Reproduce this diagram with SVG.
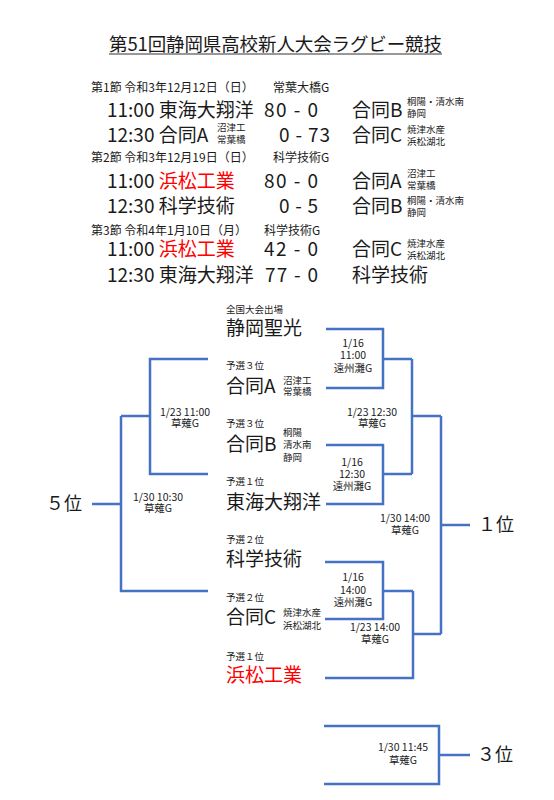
<svg xmlns="http://www.w3.org/2000/svg" width="554" height="800" viewBox="0 0 554 800">
<style>
text{font-family:"Noto Sans CJK JP","Noto Sans",sans-serif;fill:#1a1a1a}
.title{font-size:18.5px}
.hdr{font-size:12px}
.row{font-size:19px}
.sm{font-size:9.5px}
.red{fill:#ff0000}
.team{font-size:19px}
.lbl{font-size:9.5px}
.ml{font-size:10.5px;text-anchor:middle}
.rank{font-size:18px}
.conn path{fill:none;stroke:#4472C4;stroke-width:2.5}
</style>
<rect width="554" height="800" fill="#fff"/>
<g id="title">
<text class="title" x="109" y="51" textLength="333" lengthAdjust="spacing">第51回静岡県高校新人大会ラグビー競技</text>
<line x1="109" y1="54" x2="442" y2="54" stroke="#333" stroke-width="1"/>
</g>
<g id="schedule">
<text class="hdr" x="91" y="92">第1節 令和3年12月12日（日）</text>
<text class="hdr" x="273" y="92">常葉大橋G</text>
<text class="row" x="107" y="117">11:00 東海大翔洋</text>
<text class="row" x="264" y="117" textLength="54" lengthAdjust="spacing">80 - 0</text>
<text class="row" x="352" y="117">合同B</text>
<text class="sm"><tspan x="407" y="105">桐陽・清水南</tspan><tspan x="407" y="117">静岡</tspan></text>
<text class="row" x="107" y="142">12:30 合同A</text>
<text class="sm"><tspan x="217" y="131">沼津工</tspan><tspan x="217" y="143">常葉橋</tspan></text>
<text class="row" x="279" y="142" textLength="51" lengthAdjust="spacing">0 - 73</text>
<text class="row" x="352" y="142">合同C</text>
<text class="sm"><tspan x="407" y="133">焼津水産</tspan><tspan x="407" y="145">浜松湖北</tspan></text>
<text class="hdr" x="91" y="162">第2節 令和3年12月19日（日）</text>
<text class="hdr" x="273" y="162">科学技術G</text>
<text class="row" x="107" y="188">11:00 <tspan class="red">浜松工業</tspan></text>
<text class="row" x="264" y="188" textLength="54" lengthAdjust="spacing">80 - 0</text>
<text class="row" x="352" y="188">合同A</text>
<text class="sm"><tspan x="407" y="177">沼津工</tspan><tspan x="407" y="189">常葉橋</tspan></text>
<text class="row" x="107" y="213">12:30 科学技術</text>
<text class="row" x="279" y="213" textLength="39" lengthAdjust="spacing">0 - 5</text>
<text class="row" x="352" y="213">合同B</text>
<text class="sm"><tspan x="407" y="204">桐陽・清水南</tspan><tspan x="407" y="216">静岡</tspan></text>
<text class="hdr" x="91" y="235">第3節 令和4年1月10日（月）</text>
<text class="hdr" x="264" y="235">科学技術G</text>
<text class="row" x="107" y="256">11:00 <tspan class="red">浜松工業</tspan></text>
<text class="row" x="264" y="256" textLength="54" lengthAdjust="spacing">42 - 0</text>
<text class="row" x="352" y="256">合同C</text>
<text class="sm"><tspan x="407" y="247">焼津水産</tspan><tspan x="407" y="259">浜松湖北</tspan></text>
<text class="row" x="107" y="282">12:30 東海大翔洋</text>
<text class="row" x="265" y="282" textLength="53" lengthAdjust="spacing">77 - 0</text>
<text class="row" x="352" y="282">科学技術</text>
</g>
<g class="conn" id="connectors">
<path d="M326,329 H383 V388 H326"/>
<path d="M383,359 H412"/>
<path d="M326,445 H383 V504 H326"/>
<path d="M383,474 H412"/>
<path d="M412,359 V474"/>
<path d="M412,416 H441"/>
<path d="M208,359 H150 V474 H208"/>
<path d="M150,416 H121"/>
<path d="M325,562 H383 V619 H325"/>
<path d="M383,591 H413"/>
<path d="M413,591 V678 H325"/>
<path d="M413,634 H441"/>
<path d="M441,416 V634"/>
<path d="M441,525 H470"/>
<path d="M121,416 V591 H208"/>
<path d="M121,504 H92"/>
<path d="M324,726 H439 V784 H324"/>
<path d="M439,755 H470"/>
</g>
<g id="team-seiko">
<text class="lbl" x="226" y="313">全国大会出場</text>
<text class="team" x="226" y="335">静岡聖光</text>
</g>
<g id="team-godoA">
<text class="lbl" x="226" y="369">予選３位</text>
<text class="team" x="226" y="393">合同A</text>
<text class="sm"><tspan x="283" y="384">沼津工</tspan><tspan x="283" y="395">常葉橋</tspan></text>
</g>
<g id="team-godoB">
<text class="lbl" x="226" y="427">予選３位</text>
<text class="team" x="226" y="451">合同B</text>
<text class="sm"><tspan x="283" y="436">桐陽</tspan><tspan x="283" y="448">清水南</tspan><tspan x="283" y="461">静岡</tspan></text>
</g>
<g id="team-tokai">
<text class="lbl" x="226" y="485">予選１位</text>
<text class="team" x="226" y="509">東海大翔洋</text>
</g>
<g id="team-kagaku">
<text class="lbl" x="226" y="543">予選２位</text>
<text class="team" x="226" y="566">科学技術</text>
</g>
<g id="team-godoC">
<text class="lbl" x="226" y="601">予選２位</text>
<text class="team" x="226" y="624">合同C</text>
<text class="sm"><tspan x="283" y="616">焼津水産</tspan><tspan x="283" y="629">浜松湖北</tspan></text>
</g>
<g id="team-hamako">
<text class="lbl" x="226" y="660">予選１位</text>
<text class="team red" x="226" y="682">浜松工業</text>
</g>
<g id="match-labels">
<text class="ml"><tspan x="353" y="347">1/16</tspan><tspan x="353" y="359">11:00</tspan><tspan x="353" y="372">遠州灘G</tspan></text>
<text class="ml"><tspan x="185" y="416">1/23 11:00</tspan><tspan x="185" y="427">草薙G</tspan></text>
<text class="ml"><tspan x="372" y="416">1/23 12:30</tspan><tspan x="372" y="427">草薙G</tspan></text>
<text class="ml"><tspan x="352" y="466">1/16</tspan><tspan x="352" y="478">12:30</tspan><tspan x="352" y="490">遠州灘G</tspan></text>
<text class="ml"><tspan x="158" y="501">1/30 10:30</tspan><tspan x="158" y="512">草薙G</tspan></text>
<text class="ml"><tspan x="405" y="522">1/30 14:00</tspan><tspan x="405" y="534">草薙G</tspan></text>
<text class="ml"><tspan x="353" y="581">1/16</tspan><tspan x="353" y="594">14:00</tspan><tspan x="353" y="606">遠州灘G</tspan></text>
<text class="ml"><tspan x="375" y="631">1/23 14:00</tspan><tspan x="375" y="643">草薙G</tspan></text>
<text class="ml"><tspan x="403" y="751">1/30 11:45</tspan><tspan x="403" y="764">草薙G</tspan></text>
</g>
<g id="rank5"><text class="rank" x="46" y="510">５位</text></g>
<g id="rank1"><text class="rank" x="478" y="531">１位</text></g>
<g id="rank3"><text class="rank" x="477" y="761">３位</text></g>
</svg>
